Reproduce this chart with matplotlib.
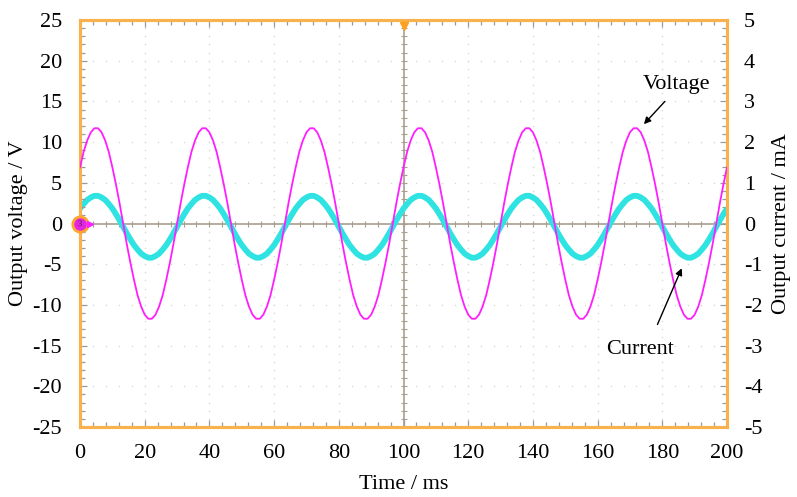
import matplotlib.pyplot as plt
from matplotlib.ticker import MultipleLocator

time_ms = [
    0.00, 1.11, 2.22, 3.33, 4.44, 5.56, 6.67, 7.78, 8.89,
    10.00, 11.11, 12.22, 13.33, 14.44, 15.56, 16.67, 17.78, 18.89,
    20.00, 21.11, 22.22, 23.33, 24.44, 25.56, 26.67, 27.78, 28.89,
    30.00, 31.11, 32.22, 33.33, 34.44, 35.56, 36.67, 37.78, 38.89,
    40.00, 41.11, 42.22, 43.33, 44.44, 45.56, 46.67, 47.78, 48.89,
    50.00, 51.11, 52.22, 53.33, 54.44, 55.56, 56.67, 57.78, 58.89,
    60.00, 61.11, 62.22, 63.33, 64.44, 65.56, 66.67, 67.78, 68.89,
    70.00, 71.11, 72.22, 73.33, 74.44, 75.56, 76.67, 77.78, 78.89,
    80.00, 81.11, 82.22, 83.33, 84.44, 85.56, 86.67, 87.78, 88.89,
    90.00, 91.11, 92.22, 93.33, 94.44, 95.56, 96.67, 97.78, 98.89,
    100.00, 101.11, 102.22, 103.33, 104.44, 105.56, 106.67, 107.78, 108.89,
    110.00, 111.11, 112.22, 113.33, 114.44, 115.56, 116.67, 117.78, 118.89,
    120.00, 121.11, 122.22, 123.33, 124.44, 125.56, 126.67, 127.78, 128.89,
    130.00, 131.11, 132.22, 133.33, 134.44, 135.56, 136.67, 137.78, 138.89,
    140.00, 141.11, 142.22, 143.33, 144.44, 145.56, 146.67, 147.78, 148.89,
    150.00, 151.11, 152.22, 153.33, 154.44, 155.56, 156.67, 157.78, 158.89,
    160.00, 161.11, 162.22, 163.33, 164.44, 165.56, 166.67, 167.78, 168.89,
    170.00, 171.11, 172.22, 173.33, 174.44, 175.56, 176.67, 177.78, 178.89,
    180.00, 181.11, 182.22, 183.33, 184.44, 185.56, 186.67, 187.78, 188.89,
    190.00, 191.11, 192.22, 193.33, 194.44, 195.56, 196.67, 197.78, 198.89,
    200.00,
]

voltage_v = [
    6.9, 8.8, 10.2, 11.2, 11.7, 11.7, 11.2, 10.2, 8.8, 6.9, 4.8, 2.5, 0.0, -2.5, -4.8,
    -6.9, -8.8, -10.2, -11.2, -11.7, -11.7, -11.2, -10.2, -8.8, -6.9, -4.8, -2.5, 0.0, 2.5, 4.8,
    6.9, 8.8, 10.2, 11.2, 11.7, 11.7, 11.2, 10.2, 8.8, 6.9, 4.8, 2.5, 0.0, -2.5, -4.8,
    -6.9, -8.8, -10.2, -11.2, -11.7, -11.7, -11.2, -10.2, -8.8, -6.9, -4.8, -2.5, 0.0, 2.5, 4.8,
    6.9, 8.8, 10.2, 11.2, 11.7, 11.7, 11.2, 10.2, 8.8, 6.9, 4.8, 2.5, 0.0, -2.5, -4.8,
    -6.9, -8.8, -10.2, -11.2, -11.7, -11.7, -11.2, -10.2, -8.8, -6.9, -4.8, -2.5, 0.0, 2.5, 4.8,
    6.9, 8.8, 10.2, 11.2, 11.7, 11.7, 11.2, 10.2, 8.8, 6.9, 4.8, 2.5, 0.0, -2.5, -4.8,
    -6.9, -8.8, -10.2, -11.2, -11.7, -11.7, -11.2, -10.2, -8.8, -6.9, -4.8, -2.5, 0.0, 2.5, 4.8,
    6.9, 8.8, 10.2, 11.2, 11.7, 11.7, 11.2, 10.2, 8.8, 6.9, 4.8, 2.5, 0.0, -2.5, -4.8,
    -6.9, -8.8, -10.2, -11.2, -11.7, -11.7, -11.2, -10.2, -8.8, -6.9, -4.8, -2.5, 0.0, 2.5, 4.8,
    6.9, 8.8, 10.2, 11.2, 11.7, 11.7, 11.2, 10.2, 8.8, 6.9, 4.8, 2.5, 0.0, -2.5, -4.8,
    -6.9, -8.8, -10.2, -11.2, -11.7, -11.7, -11.2, -10.2, -8.8, -6.9, -4.8, -2.5, 0.0, 2.5, 4.8,
    6.9,
]

current_ma = [
    0.37, 0.48, 0.58, 0.64, 0.68, 0.68, 0.64, 0.58, 0.48, 0.37, 0.23, 0.08, -0.08, -0.24, -0.39,
    -0.53, -0.64, -0.74, -0.80, -0.84, -0.84, -0.80, -0.74, -0.64, -0.53, -0.39, -0.24, -0.08, 0.08, 0.23,
    0.37, 0.48, 0.58, 0.64, 0.68, 0.68, 0.64, 0.58, 0.48, 0.37, 0.23, 0.08, -0.08, -0.24, -0.39,
    -0.53, -0.64, -0.74, -0.80, -0.84, -0.84, -0.80, -0.74, -0.64, -0.53, -0.39, -0.24, -0.08, 0.08, 0.23,
    0.37, 0.48, 0.58, 0.64, 0.68, 0.68, 0.64, 0.58, 0.48, 0.37, 0.23, 0.08, -0.08, -0.24, -0.39,
    -0.53, -0.64, -0.74, -0.80, -0.84, -0.84, -0.80, -0.74, -0.64, -0.53, -0.39, -0.24, -0.08, 0.08, 0.23,
    0.37, 0.48, 0.58, 0.64, 0.68, 0.68, 0.64, 0.58, 0.48, 0.37, 0.23, 0.08, -0.08, -0.24, -0.39,
    -0.53, -0.64, -0.74, -0.80, -0.84, -0.84, -0.80, -0.74, -0.64, -0.53, -0.39, -0.24, -0.08, 0.08, 0.23,
    0.37, 0.48, 0.58, 0.64, 0.68, 0.68, 0.64, 0.58, 0.48, 0.37, 0.23, 0.08, -0.08, -0.24, -0.39,
    -0.53, -0.64, -0.74, -0.80, -0.84, -0.84, -0.80, -0.74, -0.64, -0.53, -0.39, -0.24, -0.08, 0.08, 0.23,
    0.37, 0.48, 0.58, 0.64, 0.68, 0.68, 0.64, 0.58, 0.48, 0.37, 0.23, 0.08, -0.08, -0.24, -0.39,
    -0.53, -0.64, -0.74, -0.80, -0.84, -0.84, -0.80, -0.74, -0.64, -0.53, -0.39, -0.24, -0.08, 0.08, 0.23,
    0.37,
]

x_ticks = [0, 20, 40, 60, 80, 100, 120, 140, 160, 180, 200]
v_ticks = [-25, -20, -15, -10, -5, 0, 5, 10, 15, 20, 25]
i_ticks = [-5, -4, -3, -2, -1, 0, 1, 2, 3, 4, 5]

FRAME = "#F7B24C"
CENTER = "#A89E8E"
TICKC = "#9A9A9A"
MAGENTA = "#FF1EFF"
CYAN = "#2FE3E3"

plt.rcParams["font.family"] = ["Liberation Serif", "DejaVu Serif"]
plt.rcParams["font.size"] = 16
plt.rcParams["axes.unicode_minus"] = False

fig = plt.figure(figsize=(7.97, 4.97), dpi=100)
ax = fig.add_axes([0.1004, 0.1408, 0.8118, 0.8190])
ax2 = ax.twinx()
# voltage axis drawn over the current axis so magenta sits on top
ax.set_zorder(ax2.get_zorder() + 1)
ax.patch.set_visible(False)

ax.set_xlim(0, 200)
ax.set_ylim(-25, 25)
ax2.set_ylim(-5, 5)

# dotted graticule on the current axis (behind everything)
minor_x = [m * 4 for m in range(51)]
minor_v = [m * 0.2 for m in range(-25, 26)]
for xv in x_ticks[1:-1]:
    if xv != 100:
        ax2.scatter([xv] * len(minor_v), minor_v, s=1.2, color="#D9D9D2", lw=0, zorder=0)
for yv in i_ticks[1:-1]:
    if yv != 0:
        ax2.scatter(minor_x, [yv] * len(minor_x), s=1.2, color="#D9D9D2", lw=0, zorder=0)

# centre cross with small ticks
ax2.axhline(0, color=CENTER, lw=1.2, zorder=1)
ax2.axvline(100, color=CENTER, lw=1.2, zorder=1)
ax2.plot(minor_x, [0] * len(minor_x), ls="none", marker="|", ms=5, mew=0.8, color=CENTER, zorder=1)
ax2.plot([100] * len(minor_v), minor_v, ls="none", marker="_", ms=5, mew=0.8, color=CENTER, zorder=1)

ax2.plot(time_ms, current_ma, color=CYAN, lw=4.2, solid_capstyle="butt", zorder=2)
ax.plot(time_ms, voltage_v, color=MAGENTA, lw=1.3, zorder=3)

for a in (ax, ax2):
    for sp in a.spines.values():
        sp.set_color(FRAME)
        sp.set_linewidth(2.2)

ax.set_xticks(x_ticks)
ax.set_yticks(v_ticks)
ax2.set_yticks(i_ticks)
ax.xaxis.set_minor_locator(MultipleLocator(4))
ax.yaxis.set_minor_locator(MultipleLocator(1))
ax2.yaxis.set_minor_locator(MultipleLocator(0.2))
ax.tick_params(which="both", direction="in", top=True, color=TICKC, width=0.9)
ax.tick_params(which="major", length=5)
ax.tick_params(which="minor", length=3.5)
ax.tick_params(axis="y", which="major", pad=13)
ax.tick_params(axis="x", which="major", pad=12)
ax2.tick_params(which="both", direction="in", color=TICKC, width=0.9)
ax2.tick_params(which="major", length=5, pad=12)
ax2.tick_params(which="minor", length=3.5)

ax.set_xlabel("Time / ms", labelpad=9)
ax.set_ylabel("Output voltage / V", labelpad=3)
ax2.set_ylabel("Output current / mA", rotation=90, labelpad=7)

# scope channel marker and trigger marker
ax.plot(0, 0, marker="o", ms=11, mfc="#E424E4", mec="#FFA52E", mew=2, clip_on=False, zorder=5)
ax.text(0, 0, "3", fontsize=6, ha="center", va="center", color="#402040", zorder=6)
ax.plot(3, 0, marker=">", ms=4, color=MAGENTA, clip_on=False, zorder=5)
ax.plot(100, 24.3, marker="v", ms=6, color="#FFA020", clip_on=False, zorder=5)

arrow = dict(arrowstyle="-|>", color="black", lw=1.0, mutation_scale=10, shrinkA=0, shrinkB=0)
ax.annotate("", xy=(174.3, 12.2), xytext=(180.8, 15.0), arrowprops=arrow, zorder=6)
ax.text(184.3, 17.1, "Voltage", ha="center", va="center", fontsize=16)
ax.annotate("", xy=(186.0, -5.5), xytext=(178.5, -12.4), arrowprops=arrow, zorder=6)
ax.text(173.1, -15.5, "Current", ha="center", va="center", fontsize=16)

fig.savefig("out.png", dpi=100)
